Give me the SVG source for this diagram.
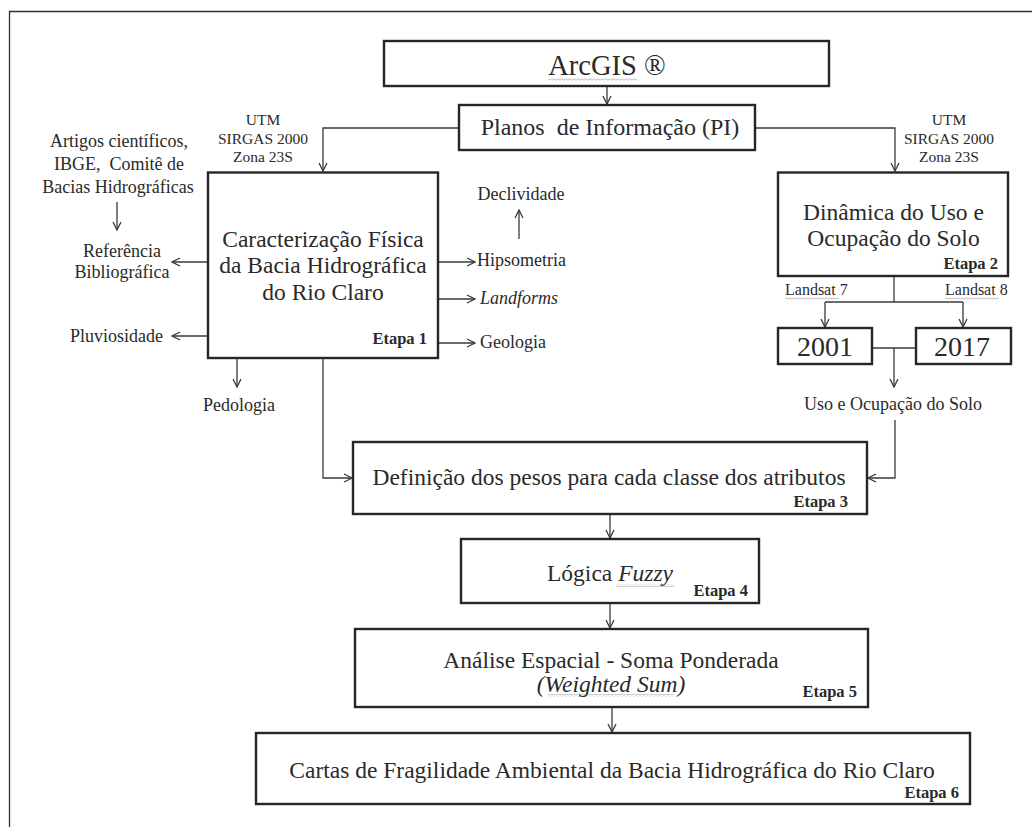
<svg xmlns="http://www.w3.org/2000/svg" width="1032" height="827" viewBox="0 0 1032 827">
<style>
text{font-family:"Liberation Serif","Times New Roman",serif;fill:#2a2a2a}
.big{font-size:23.5px}
.lbl{font-size:18px}
.utm{font-size:15.5px}
.ls{font-size:16px}
.et{font-size:16.5px;font-weight:bold;text-anchor:end}
.mid{text-anchor:middle}
.box{fill:#fff;stroke:#262626;stroke-width:2.4}
.con{fill:none;stroke:#3a3a3a;stroke-width:1.3}
.it{font-style:italic}
</style>
<defs>
<marker id="ah" markerWidth="10" markerHeight="10" refX="9" refY="5" orient="auto" markerUnits="userSpaceOnUse">
<path d="M1,1 L9,5 L1,9" fill="none" stroke="#3a3a3a" stroke-width="1.3"/>
</marker>
<pattern id="wavy" width="4" height="3" patternUnits="userSpaceOnUse">
<path d="M0,2.2 L2,0.8 L4,2.2" fill="none" stroke="#9a9a9a" stroke-width="0.7"/>
</pattern>
</defs>
<rect width="1032" height="827" fill="#fff"/>
<g id="frame">
<path d="M9.5,827 V11.5 H1032" fill="none" stroke="#333" stroke-width="1.3"/>
</g>
<g id="connectors">
<path class="con" d="M607,86 V104" marker-end="url(#ah)"/>
<path class="con" d="M459,128 H323 V171" marker-end="url(#ah)"/>
<path class="con" d="M755,128 H895 V171" marker-end="url(#ah)"/>
<path class="con" d="M117,202 V230" marker-end="url(#ah)"/>
<path class="con" d="M208,262 H172" marker-end="url(#ah)"/>
<path class="con" d="M208,336 H172" marker-end="url(#ah)"/>
<path class="con" d="M438,262 H475" marker-end="url(#ah)"/>
<path class="con" d="M438,299 H475" marker-end="url(#ah)"/>
<path class="con" d="M438,343 H475" marker-end="url(#ah)"/>
<path class="con" d="M519,239 V210" marker-end="url(#ah)"/>
<path class="con" d="M237,358 V387" marker-end="url(#ah)"/>
<path class="con" d="M323,358 V478 H352" marker-end="url(#ah)"/>
<path class="con" d="M894,276 V302"/>
<path class="con" d="M825,302 H963"/>
<path class="con" d="M825,302 V327" marker-end="url(#ah)"/>
<path class="con" d="M963,302 V327" marker-end="url(#ah)"/>
<path class="con" d="M872,348 H916"/>
<path class="con" d="M894,348 V387" marker-end="url(#ah)"/>
<path class="con" d="M895,420 V478 H868" marker-end="url(#ah)"/>
<path class="con" d="M610,514 V538" marker-end="url(#ah)"/>
<path class="con" d="M610,603 V628" marker-end="url(#ah)"/>
<path class="con" d="M612,707 V732" marker-end="url(#ah)"/>
</g>
<g id="arcgis">
<rect class="box" x="384" y="41" width="445" height="45" stroke-width="2.8"/>
<text x="607" y="75" class="mid" style="font-size:28.5px">ArcGIS ®</text>
<rect x="548" y="78" width="89" height="3" fill="url(#wavy)"/>
</g>
<g id="planos">
<rect class="box" x="459" y="105" width="296" height="45"/>
<text x="610" y="135" class="mid" style="font-size:24px;white-space:pre">Planos  de Informação (PI)</text>
</g>
<g id="utm-left">
<text x="263" y="125" class="utm mid">UTM</text>
<text x="263" y="144" class="utm mid">SIRGAS 2000</text>
<text x="263" y="162" class="utm mid">Zona 23S</text>
</g>
<g id="utm-right">
<text x="949" y="125" class="utm mid">UTM</text>
<text x="949" y="144" class="utm mid">SIRGAS 2000</text>
<text x="949" y="162" class="utm mid">Zona 23S</text>
</g>
<g id="artigos">
<text x="119" y="147" class="lbl mid">Artigos científicos,</text>
<text x="119" y="170" class="lbl mid" style="white-space:pre">IBGE,  Comitê de</text>
<text x="118" y="193" class="lbl mid">Bacias Hidrográficas</text>
</g>
<g id="referencia">
<text x="122" y="257" class="lbl mid">Referência</text>
<text x="122" y="278" class="lbl mid">Bibliográfica</text>
</g>
<g id="pluviosidade">
<text x="163" y="342" class="lbl" text-anchor="end">Pluviosidade</text>
</g>
<g id="caracterizacao">
<rect class="box" x="208" y="172.5" width="230" height="185.5"/>
<text x="323" y="247" class="big mid">Caracterização Física</text>
<text x="323" y="273" class="big mid">da Bacia Hidrográfica</text>
<text x="323" y="300" class="big mid">do Rio Claro</text>
<text x="427" y="344" class="et">Etapa 1</text>
</g>
<g id="declividade">
<text x="521" y="200" class="lbl mid">Declividade</text>
</g>
<g id="hipsometria">
<text x="477" y="266" class="lbl">Hipsometria</text>
</g>
<g id="landforms">
<text x="480" y="304" class="lbl it">Landforms</text>
</g>
<g id="geologia">
<text x="480" y="348" class="lbl">Geologia</text>
</g>
<g id="pedologia">
<text x="239" y="411" class="lbl mid">Pedologia</text>
</g>
<g id="dinamica">
<rect class="box" x="778" y="172.5" width="230" height="103.5"/>
<text x="893.5" y="220" class="big mid">Dinâmica do Uso e</text>
<text x="893.5" y="246" class="big mid">Ocupação do Solo</text>
<text x="998" y="269" class="et">Etapa 2</text>
</g>
<g id="landsat7">
<text x="785" y="295" class="ls">Landsat 7</text>
<rect x="785" y="297" width="54" height="3" fill="url(#wavy)"/>
</g>
<g id="landsat8">
<text x="945" y="295" class="ls">Landsat 8</text>
<rect x="945" y="297" width="54" height="3" fill="url(#wavy)"/>
</g>
<g id="y2001">
<rect class="box" x="778" y="328" width="94" height="36"/>
<text x="825" y="356" class="mid" style="font-size:28px">2001</text>
</g>
<g id="y2017">
<rect class="box" x="916" y="328" width="95" height="36"/>
<text x="962" y="356" class="mid" style="font-size:28px">2017</text>
</g>
<g id="uso">
<text x="893" y="410" class="lbl mid">Uso e Ocupação do Solo</text>
</g>
<g id="definicao">
<rect class="box" x="353" y="442" width="514" height="72"/>
<text x="609" y="485" class="big mid">Definição dos pesos para cada classe dos atributos</text>
<text x="848" y="507" class="et">Etapa 3</text>
</g>
<g id="logica">
<rect class="box" x="461" y="539" width="298" height="64"/>
<text x="547" y="581" class="big">Lógica <tspan class="it">Fuzzy</tspan></text>
<rect x="616" y="584" width="58" height="3" fill="url(#wavy)"/>
<text x="748" y="596" class="et">Etapa 4</text>
</g>
<g id="analise">
<rect class="box" x="355" y="629" width="513" height="78"/>
<text x="611" y="668" class="big mid">Análise Espacial - Soma Ponderada</text>
<text x="611" y="692" class="big mid it">(Weighted Sum)</text>
<rect x="548" y="694" width="126" height="3" fill="url(#wavy)"/>
<text x="857" y="697" class="et">Etapa 5</text>
</g>
<g id="cartas">
<rect class="box" x="256" y="733" width="714" height="71"/>
<text x="612" y="778" class="big mid">Cartas de Fragilidade Ambiental da Bacia Hidrográfica do Rio Claro</text>
<text x="959" y="798" class="et">Etapa 6</text>
</g>
</svg>
